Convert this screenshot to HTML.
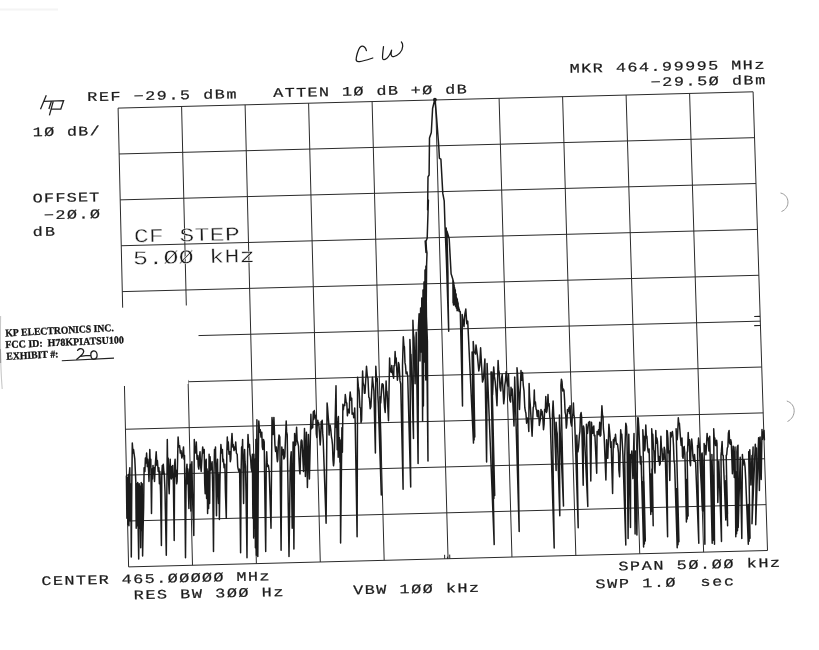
<!DOCTYPE html>
<html><head><meta charset="utf-8"><title>Spectrum plot</title>
<style>html,body{margin:0;padding:0;background:#fff;}body{width:819px;height:650px;overflow:hidden;position:relative;font-family:"Liberation Mono",monospace;}svg{position:absolute;left:0;top:0;display:block;filter:grayscale(1)}text{font-family:"Liberation Mono",monospace;fill:#1c1c1c}.s{font-family:"Liberation Serif",serif;font-weight:bold;fill:#111}</style></head><body>
<svg width="819" height="650" viewBox="0 0 819 650">
<rect x="0" y="0" width="819" height="650" fill="#ffffff"/>
<g stroke="#2a2a2a" stroke-width="1" fill="none" stroke-linecap="butt">
<line x1="118.10" y1="108.10" x2="128.60" y2="566.90"/>
<line x1="181.60" y1="106.47" x2="192.49" y2="565.26"/>
<line x1="245.10" y1="104.84" x2="256.38" y2="563.62"/>
<line x1="308.60" y1="103.21" x2="320.27" y2="561.98"/>
<line x1="372.10" y1="101.58" x2="384.16" y2="560.34"/>
<line x1="435.60" y1="99.95" x2="448.05" y2="558.70"/>
<line x1="499.10" y1="98.32" x2="511.94" y2="557.06"/>
<line x1="562.60" y1="96.69" x2="575.83" y2="555.42"/>
<line x1="626.10" y1="95.06" x2="639.72" y2="553.78"/>
<line x1="689.60" y1="93.43" x2="703.61" y2="552.14"/>
<line x1="753.10" y1="91.80" x2="767.50" y2="550.50"/>
<line x1="118.10" y1="108.10" x2="753.10" y2="91.80"/>
<line x1="119.15" y1="153.98" x2="754.54" y2="137.67"/>
<line x1="120.20" y1="199.86" x2="755.98" y2="183.54"/>
<line x1="121.25" y1="245.74" x2="757.42" y2="229.41"/>
<line x1="122.30" y1="291.62" x2="758.86" y2="275.28"/>
<line x1="123.35" y1="337.50" x2="760.30" y2="321.15"/>
<line x1="124.40" y1="383.38" x2="761.74" y2="367.02"/>
<line x1="125.45" y1="429.26" x2="763.18" y2="412.89"/>
<line x1="126.50" y1="475.14" x2="764.62" y2="458.76"/>
<line x1="127.55" y1="521.02" x2="766.06" y2="504.63"/>
<line x1="128.60" y1="566.90" x2="767.50" y2="550.50"/>
</g>
<path d="M126.4,476.0 L126.9,518.3 L127.4,477.7 L127.9,524.5 L128.4,474.5 L128.9,525.7 L129.4,472.8 L129.8,467.8 L130.3,520.8 L130.6,483.8 L131.1,525.7 L131.3,557.0 L131.8,483.8 L132.3,443.0 L133.0,453.1 L133.5,449.4 L134.8,459.2 L135.8,481.4 L136.2,528.2 L136.7,483.8 L137.2,525.7 L137.7,482.6 L138.2,530.6 L138.7,558.9 L139.2,483.8 L139.7,528.2 L140.2,486.3 L140.7,547.8 L141.2,482.6 L141.7,530.6 L142.2,483.8 L142.6,556.0 L143.1,528.2 L143.6,508.5 L144.1,467.8 L144.9,471.5 L145.4,458.0 L146.1,462.9 L146.6,453.1 L147.3,466.6 L147.8,459.2 L148.6,471.5 L149.0,481.4 L149.8,449.4 L150.3,466.6 L150.8,459.2 L151.5,513.4 L152.0,469.1 L152.5,478.9 L153.0,465.4 L153.5,474.0 L154.0,467.8 L154.5,481.4 L155.2,466.6 L156.2,451.8 L156.9,465.4 L157.4,460.5 L158.2,471.5 L158.9,467.8 L159.4,483.8 L159.9,471.5 L160.6,493.7 L161.4,545.4 L161.8,474.0 L162.3,465.4 L162.8,474.0 L163.3,464.2 L163.8,471.5 L164.3,474.0 L165.0,491.2 L166.3,555.2 L167.3,439.5 L167.8,474.0 L168.2,458.0 L168.7,483.8 L169.2,493.7 L169.7,469.1 L170.2,459.2 L170.7,476.5 L171.2,478.9 L171.7,466.6 L172.2,477.7 L172.7,465.4 L173.4,483.8 L174.2,540.5 L174.6,464.2 L175.1,459.2 L175.6,476.5 L176.1,470.3 L176.6,483.8 L177.1,481.4 L178.1,437.1 L178.8,446.9 L179.6,445.7 L180.3,453.1 L181.0,450.6 L181.8,458.0 L182.5,455.5 L183.5,446.9 L184.0,459.2 L184.5,455.5 L185.5,557.7 L186.0,491.2 L186.5,469.1 L187.0,464.2 L187.4,483.8 L187.9,469.1 L188.4,491.2 L188.9,508.5 L189.4,474.0 L190.2,464.2 L190.4,491.2 L190.9,510.9 L191.4,471.5 L191.9,461.7 L192.4,491.2 L193.1,515.8 L193.8,535.5 L194.3,439.5 L194.8,451.8 L195.3,448.2 L195.8,453.1 L196.3,442.0 L197.0,459.2 L197.8,455.5 L198.3,466.6 L198.8,469.1 L199.3,459.2 L200.0,451.8 L200.5,465.4 L201.2,471.5 L202.0,456.8 L202.7,446.9 L203.4,453.1 L204.2,449.4 L204.7,483.8 L205.2,493.7 L205.7,461.7 L206.2,459.2 L206.6,498.6 L207.1,469.1 L207.6,513.4 L208.1,471.5 L208.6,508.5 L209.1,454.3 L209.6,503.5 L210.1,456.8 L210.6,470.3 L211.1,469.1 L211.6,465.4 L212.1,461.7 L212.8,491.2 L213.5,551.5 L214.0,471.5 L214.5,449.4 L215.0,459.2 L215.5,446.9 L216.0,483.8 L216.5,515.8 L217.0,466.6 L217.5,459.2 L218.0,491.2 L218.5,503.5 L219.0,474.0 L219.4,519.5 L219.9,483.8 L220.4,459.2 L220.9,444.5 L221.7,453.1 L222.4,449.4 L222.9,461.7 L223.4,459.2 L224.1,467.8 L224.9,464.2 L225.4,491.2 L226.3,518.3 L226.8,454.3 L227.3,437.1 L227.8,449.4 L228.3,442.0 L229.0,454.3 L229.8,451.8 L230.3,461.7 L230.8,459.2 L231.3,444.5 L232.0,433.4 L232.7,446.9 L233.2,444.5 L234.0,450.6 L234.7,446.9 L235.2,449.4 L235.7,442.0 L236.4,453.1 L237.2,454.3 L237.7,466.6 L238.2,469.1 L238.9,471.5 L239.6,469.1 L240.1,508.5 L240.6,552.8 L241.1,471.5 L241.6,446.9 L242.1,454.3 L242.6,439.5 L243.1,474.0 L243.6,503.5 L244.1,459.2 L244.6,449.4 L245.0,461.7 L245.5,466.6 L246.0,491.2 L247.0,557.7 L247.5,459.2 L248.0,434.6 L248.7,446.9 L249.5,444.5 L250.0,454.3 L250.5,456.8 L251.2,467.8 L251.9,471.5 L252.4,454.3 L252.9,518.3 L253.2,455.5 L253.7,538.0 L253.9,454.3 L254.4,528.2 L254.9,459.2 L255.4,547.8 L255.9,439.5 L256.4,555.2 L256.9,419.8 L257.4,547.8 L257.8,556.5 L258.3,459.2 L258.8,421.1 L259.6,432.2 L260.3,429.7 L261.0,437.1 L261.8,432.2 L262.3,446.9 L262.8,449.4 L263.5,439.5 L264.2,442.0 L264.7,483.8 L265.7,551.5 L266.2,466.6 L266.7,451.8 L267.2,462.9 L267.7,466.6 L268.4,465.4 L269.2,471.5 L271.0,528.2 L272.0,417.4 L272.4,422.9 L273.0,434.6 L273.4,431.8 L273.9,417.4 L274.9,444.5 L275.6,451.5 L276.4,446.9 L277.0,457.4 L277.4,461.7 L277.8,459.6 L278.4,442.0 L279.0,435.1 L279.8,437.1 L281.1,550.3 L281.8,446.9 L282.6,454.7 L283.3,449.4 L283.9,459.0 L284.8,456.8 L286.2,421.1 L286.6,431.9 L287.2,434.6 L289.0,556.5 L290.2,469.1 L290.7,457.8 L291.2,451.8 L292.2,528.2 L293.1,442.0 L293.9,549.1 L294.6,433.4 L295.2,445.6 L295.8,444.5 L296.6,427.2 L297.1,440.1 L297.6,442.0 L298.5,446.1 L299.0,459.2 L299.6,471.2 L300.0,474.0 L301.0,442.0 L301.4,439.9 L302.0,440.8 L303.5,471.5 L304.5,428.5 L305.4,476.5 L306.4,432.2 L307.4,487.5 L308.4,434.6 L309.4,478.9 L310.9,414.2 L311.3,428.9 L311.8,427.7 L312.7,427.7 L313.3,411.7 L313.7,419.5 L314.3,410.5 L315.2,418.0 L315.8,415.4 L316.3,434.0 L316.8,437.5 L317.1,426.6 L317.8,420.3 L318.3,424.8 L318.7,422.8 L319.4,432.4 L320.2,444.9 L320.6,439.4 L321.2,421.5 L321.6,428.2 L322.2,420.3 L322.7,433.4 L323.2,440.0 L326.1,523.2 L327.1,403.1 L327.5,407.1 L328.1,415.4 L328.7,423.0 L329.1,435.1 L329.5,427.6 L330.1,425.2 L330.8,429.8 L331.5,437.5 L331.9,439.1 L332.5,444.9 L333.0,459.8 L333.5,465.8 L333.9,462.9 L334.5,447.4 L336.0,385.8 L336.5,427.7 L336.7,417.8 L337.2,449.8 L337.7,421.5 L338.2,457.2 L338.4,416.6 L338.9,449.8 L339.4,437.5 L339.9,462.2 L340.2,440.0 L340.6,542.9 L341.9,427.7 L342.4,452.3 L342.9,404.3 L343.4,409.8 L343.8,405.5 L344.7,405.6 L345.3,394.5 L346.2,402.5 L346.8,403.1 L347.4,415.8 L347.8,412.9 L348.4,409.3 L349.3,412.9 L349.7,398.1 L350.2,392.0 L351.0,400.3 L351.7,398.2 L352.1,414.3 L352.7,412.9 L353.3,413.3 L353.7,417.8 L354.2,417.3 L354.7,408.0 L355.2,422.8 L357.1,536.7 L357.6,377.2 L358.4,386.9 L359.1,390.8 L359.9,407.4 L360.6,408.0 L361.0,422.6 L361.6,420.3 L362.6,371.1 L363.1,382.7 L364.0,385.8 L364.4,393.2 L365.0,393.2 L366.5,366.2 L367.3,375.7 L368.0,378.5 L368.8,397.2 L369.4,398.2 L370.2,408.8 L370.9,406.8 L372.4,377.2 L373.0,382.7 L373.9,390.8 L375.4,453.0 L375.8,366.2 L376.6,381.1 L377.3,378.5 L377.9,396.4 L378.3,403.1 L381.3,494.9 L380.0,396.8 L380.7,403.0 L381.5,391.2 L382.0,383.9 L382.6,383.8 L383.2,384.9 L383.7,393.1 L384.6,407.6 L385.2,412.5 L386.1,381.1 L386.7,394.3 L387.0,391.2 L388.5,420.8 L389.6,358.0 L390.2,371.7 L390.7,369.1 L391.3,372.2 L391.8,365.4 L392.4,373.0 L392.9,374.6 L393.6,378.2 L394.0,365.4 L394.6,365.7 L395.1,351.5 L395.7,362.7 L396.2,358.0 L396.9,371.8 L397.4,380.2 L397.9,375.4 L398.5,362.6 L399.0,364.4 L399.6,372.8 L400.0,380.9 L400.7,383.8 L403.1,489.2 L402.5,365.4 L403.3,336.8 L403.9,345.7 L404.4,346.9 L405.0,362.9 L405.5,365.4 L406.1,373.7 L406.6,372.8 L407.0,372.0 L407.7,376.5 L410.7,486.9 L409.9,339.5 L410.6,355.1 L411.0,354.3 L413.5,438.5 L412.9,320.2 L413.4,333.5 L414.0,337.7 L415.1,383.8 L416.2,332.2 L416.9,383.8 L418.1,463.4 L418.4,328.5 L419.1,313.7 L419.5,318.0 L420.0,361.0 L420.6,308.0 L421.2,352.0 L421.8,298.0 L422.6,421.0 L423.0,290.0 L423.4,406.0 L424.0,282.0 L424.6,362.0 L425.0,270.0 L425.8,380.0 L425.9,266.0 L428.0,461.1 L427.4,341.4 L426.2,310.0 L426.6,265.0 L427.0,253.0 L425.2,241.0 L426.0,252.5 L425.6,241.0 L426.6,252.0 L426.0,241.3 L427.2,238.0 L428.4,200.0 L427.6,210.0 L428.0,176.8 L429.1,175.0 L429.5,138.0 L431.3,132.5 L432.6,108.5 L434.8,99.2 L436.3,114.0 L438.7,145.4 L439.4,158.3 L440.9,159.2 L442.8,193.4 L444.2,200.8 L445.0,225.8 L446.4,260.0 L448.7,331.2 L447.6,270.0 L446.2,228.0 L447.2,262.0 L448.3,318.0 L447.9,272.0 L446.9,231.0 L449.2,238.8 L451.1,273.8 L452.9,279.4 L453.1,303.0 L453.3,280.7 L453.5,304.9 L453.7,282.3 L453.9,304.9 L454.1,285.0 L454.3,303.2 L454.5,287.2 L454.7,303.6 L454.9,288.9 L455.1,304.2 L455.3,289.9 L455.5,306.3 L455.7,293.6 L455.9,305.4 L456.1,294.0 L456.3,308.1 L456.5,297.7 L456.7,308.4 L456.9,298.2 L457.1,310.7 L457.3,299.2 L457.5,310.6 L457.7,301.7 L457.9,307.9 L458.1,303.1 L458.3,309.1 L458.5,306.8 L458.7,309.0 L458.9,308.0 L459.1,311.5 L459.3,309.4 L459.4,310.8 L460.3,311.8 L462.5,406.0 L462.2,314.6 L464.0,326.6 L464.9,313.9 L465.8,309.1 L466.8,323.8 L467.7,321.1 L469.2,352.5 L473.5,443.1 L472.1,352.0 L474.1,440.1 L472.8,352.0 L474.8,437.1 L473.2,341.4 L474.1,352.4 L475.1,352.5 L475.5,354.0 L476.0,345.1 L477.4,355.7 L478.8,370.9 L479.8,364.8 L480.6,347.8 L482.5,382.0 L483.5,378.6 L484.9,358.9 L486.6,462.0 L487.1,363.5 L494.2,544.6 L491.0,372.0 L493.9,498.5 L491.8,372.0 L494.7,495.5 L491.5,374.3 L492.1,390.7 L492.6,394.6 L493.7,366.9 L494.5,376.9 L495.2,381.7 L496.1,392.4 L497.0,405.7 L498.1,360.5 L498.6,369.9 L499.2,372.5 L500.0,387.1 L500.7,390.9 L501.5,378.7 L502.2,374.3 L503.7,403.8 L504.3,398.4 L504.8,385.4 L505.4,381.0 L506.2,371.5 L507.0,381.2 L507.5,383.5 L508.0,386.0 L508.5,374.3 L509.2,394.6 L509.9,400.2 L510.6,402.1 L511.0,387.2 L511.7,395.3 L512.2,389.1 L514.0,426.0 L514.7,377.1 L519.2,531.4 L517.0,367.8 L517.5,373.3 L518.1,385.4 L518.8,394.3 L519.5,409.4 L521.0,370.6 L521.8,380.2 L522.5,372.5 L523.3,385.5 L524.0,390.9 L524.8,407.7 L525.4,411.2 L525.9,413.1 L526.6,423.2 L527.3,417.9 L527.7,418.6 L528.2,420.9 L528.8,431.5 L529.1,383.5 L529.6,396.7 L530.2,403.8 L532.1,436.2 L533.2,407.5 L533.8,406.3 L534.3,390.0 L534.7,403.8 L535.4,402.0 L536.1,409.3 L536.5,409.4 L537.2,416.5 L537.6,416.8 L538.2,410.4 L538.7,411.2 L539.3,425.4 L539.8,422.3 L540.5,418.9 L541.0,409.4 L541.5,414.7 L542.1,411.2 L542.8,417.5 L543.5,429.7 L544.1,424.1 L544.6,409.4 L545.3,411.3 L545.8,396.5 L546.4,412.6 L546.9,411.2 L547.4,406.7 L548.0,394.6 L548.5,405.7 L549.1,403.8 L549.8,417.1 L550.2,418.6 L554.2,548.0 L552.4,414.9 L553.1,401.1 L553.8,416.0 L554.2,418.6 L556.1,470.5 L556.1,422.3 L556.7,430.8 L557.2,433.4 L559.8,515.7 L559.4,414.9 L563.5,506.1 L560.9,385.4 L561.4,379.2 L562.0,381.7 L562.7,391.0 L563.5,389.1 L564.0,390.7 L564.6,400.2 L565.1,412.1 L565.7,414.9 L566.3,428.1 L566.8,424.2 L567.5,409.4 L568.4,411.1 L569.0,407.5 L569.5,413.6 L570.1,405.7 L570.8,422.4 L571.6,426.0 L572.3,416.8 L573.0,413.1 L573.4,402.9 L573.9,414.6 L574.6,418.6 L578.2,527.7 L576.8,435.2 L577.3,448.5 L577.9,451.8 L578.6,447.1 L579.4,435.2 L579.9,431.7 L580.5,414.9 L581.1,412.6 L581.6,416.8 L583.2,485.2 L583.4,426.0 L583.9,427.9 L584.5,437.1 L587.8,506.5 L586.4,424.2 L587.0,433.3 L587.5,433.4 L588.2,425.9 L588.6,422.3 L589.3,425.2 L589.7,421.4 L590.8,481.0 L591.5,422.3 L592.2,432.0 L592.6,433.4 L593.3,427.1 L593.8,426.0 L594.2,435.7 L594.9,435.2 L596.7,473.2 L597.1,431.5 L597.7,434.4 L598.6,429.7 L599.2,434.8 L599.7,422.3 L600.2,436.2 L600.8,435.2 L601.9,405.7 L602.5,415.0 L603.0,416.8 L603.4,428.7 L604.1,435.2 L605.9,480.0 L606.6,439.8 L607.2,455.3 L607.8,458.3 L608.9,424.2 L609.3,428.2 L610.0,436.2 L610.7,447.4 L611.1,441.7 L612.6,493.4 L613.3,439.8 L613.7,447.6 L614.4,438.0 L615.0,440.8 L615.5,434.3 L616.3,444.2 L617.0,443.5 L617.6,444.6 L618.5,452.8 L618.9,470.2 L619.6,476.8 L620.7,429.7 L621.2,435.8 L621.8,434.3 L622.3,443.2 L622.9,454.6 L625.8,545.1 L624.7,456.5 L625.8,423.2 L626.5,426.2 L627.0,436.2 L628.1,538.6 L628.8,434.3 L630.5,527.5 L630.6,454.6 L631.2,457.9 L631.8,450.9 L632.9,478.6 L634.0,433.4 L635.1,534.0 L635.4,450.9 L636.9,535.0 L637.7,417.7 L638.2,417.9 L638.8,426.9 L639.9,454.6 L640.4,464.0 L641.0,456.5 L643.6,546.9 L643.0,481.5 L644.4,543.9 L643.9,481.5 L645.3,540.9 L643.5,476.5 L644.3,511.8 L642.8,429.7 L643.5,440.7 L643.9,436.2 L644.6,450.8 L645.0,449.1 L645.8,425.1 L646.4,438.1 L646.9,436.2 L647.5,446.5 L648.0,450.9 L648.5,452.6 L649.1,449.1 L650.8,514.6 L650.8,474.1 L651.6,511.6 L651.7,474.1 L652.5,508.6 L651.9,469.1 L653.2,525.7 L651.7,428.8 L652.3,438.1 L652.8,434.3 L653.5,449.4 L653.9,450.9 L654.5,468.2 L655.0,473.1 L655.8,430.6 L656.3,443.3 L656.9,438.0 L657.5,441.7 L658.0,452.8 L658.4,461.1 L659.1,456.5 L659.6,465.3 L660.2,463.8 L660.9,436.2 L661.4,447.6 L662.0,449.1 L662.5,460.2 L663.1,454.6 L663.7,459.7 L664.2,447.2 L664.9,450.4 L665.4,460.2 L667.6,536.8 L666.8,430.6 L667.3,431.1 L667.9,438.0 L668.4,453.0 L669.0,450.9 L669.8,480.5 L670.5,432.5 L671.1,437.0 L671.6,434.3 L672.4,431.5 L673.0,437.0 L673.5,445.4 L674.0,460.5 L674.6,463.8 L677.2,547.8 L676.7,488.8 L678.0,544.8 L677.6,488.8 L678.9,541.8 L676.1,428.8 L676.6,438.7 L677.2,439.8 L677.7,433.1 L678.3,417.7 L678.8,423.1 L679.4,423.2 L679.8,428.9 L680.5,438.0 L681.2,445.4 L682.0,438.0 L682.5,456.5 L683.1,458.3 L683.8,447.2 L684.2,446.5 L684.9,454.6 L686.4,522.0 L686.3,479.6 L687.2,519.0 L687.2,479.6 L688.1,516.0 L687.1,452.8 L687.6,451.0 L688.2,432.5 L688.8,445.0 L689.4,439.8 L689.9,461.4 L690.5,465.7 L691.2,441.7 L691.7,439.1 L692.3,445.4 L692.9,456.0 L693.4,460.2 L694.0,461.2 L694.5,454.6 L695.1,461.6 L695.6,462.0 L698.8,543.2 L697.5,445.4 L698.1,447.2 L698.6,438.0 L699.2,443.7 L699.7,454.6 L702.6,510.9 L701.5,454.6 L702.1,452.9 L702.6,460.2 L704.9,544.2 L704.1,443.5 L704.7,448.5 L705.2,445.4 L705.9,454.8 L706.3,449.1 L707.1,433.4 L707.6,440.0 L708.2,438.0 L708.9,450.9 L709.7,436.2 L712.2,543.2 L711.2,461.2 L713.0,540.2 L712.1,461.2 L713.9,537.2 L711.9,454.6 L714.5,544.2 L713.7,428.8 L714.3,439.7 L714.8,438.0 L715.5,445.4 L715.9,445.4 L716.6,440.2 L717.0,443.5 L717.8,502.6 L718.8,460.9 L721.5,541.4 L721.0,455.4 L721.4,451.4 L722.1,441.5 L722.6,455.0 L723.2,455.4 L725.8,520.0 L725.8,480.4 L726.6,517.0 L726.7,480.4 L727.5,514.0 L726.4,475.4 L727.6,525.7 L726.2,455.4 L726.7,454.7 L727.3,448.0 L727.9,446.7 L728.4,433.2 L729.1,430.5 L729.6,443.0 L730.2,444.3 L730.7,439.7 L731.3,442.5 L732.4,473.8 L733.2,446.2 L734.3,477.5 L735.0,447.1 L735.8,536.8 L735.2,472.1 L736.6,533.8 L736.1,472.1 L737.5,530.8 L736.9,451.7 L737.3,446.8 L738.0,445.2 L738.2,527.5 L740.2,457.2 L741.8,538.6 L742.4,454.5 L743.0,465.2 L743.5,460.9 L744.0,459.8 L744.6,462.8 L745.1,467.7 L745.7,479.4 L748.3,544.2 L748.3,504.4 L749.1,541.2 L749.2,504.4 L750.0,538.2 L748.7,451.7 L749.2,456.8 L749.8,449.8 L750.9,484.9 L752.0,455.4 L752.7,456.5 L753.1,447.1 L752.0,523.8 L755.3,444.3 L755.8,454.3 L756.4,448.0 L755.7,524.8 L758.6,437.8 L759.4,490.5 L760.1,436.9 L761.2,479.4 L762.0,429.5 L762.4,439.4 L763.1,436.9 L763.6,431.5 L764.0,430.5 L764.4,439.7" fill="none" stroke="#1b1b1b" stroke-width="1.5" stroke-linejoin="round" stroke-linecap="round"/><circle cx="434.9" cy="99.6" r="1.9" fill="#1b1b1b"/>
<polygon points="0,300 121,307.8 185,305.6 198.5,305.2 198.5,372 188.3,380.3 188.3,384 124,386 0,392" fill="#ffffff"/>
<path d="M0.6,316 C0.2,340 0.6,370 2.2,389" fill="none" stroke="#c9c9c9" stroke-width="1.1"/>
<path d="M0.4,349 L0.55,363" fill="none" stroke="#9a9a9a" stroke-width="1.2"/>
<rect x="0" y="8.5" width="58" height="2" fill="#f4f4f4"/>
<text stroke="#1c1c1c" stroke-width="0.22" transform="translate(570.80,72.80) rotate(-1.221) scale(1.28,1)" x="-0.78" y="0" font-size="13.13" textLength="152.15" lengthAdjust="spacing" xml:space="preserve">MKR&#160;464.99995&#160;MHz</text>
<text stroke="#1c1c1c" stroke-width="0.22" transform="translate(651.70,86.30) rotate(-1.168) scale(1.28,1)" x="-0.78" y="0" font-size="13.13" textLength="89.57" lengthAdjust="spacing" xml:space="preserve">&#8722;29.5&#216;&#160;dBm</text>
<text stroke="#1c1c1c" stroke-width="0.22" transform="translate(88.30,101.10) rotate(-1.129) scale(1.28,1)" x="-0.78" y="0" font-size="13.13" textLength="116.58" lengthAdjust="spacing" xml:space="preserve">REF&#160;&#8722;29.5&#160;dBm</text>
<text stroke="#1c1c1c" stroke-width="0.22" transform="translate(273.20,97.10) rotate(-1.129) scale(1.28,1)" x="-0.00" y="0" font-size="13.13" textLength="151.29" lengthAdjust="spacing" xml:space="preserve">ATTEN&#160;1&#216;&#160;dB&#160;+&#216;&#160;dB</text>
<text stroke="#1c1c1c" stroke-width="0.22" transform="translate(33.80,136.30) rotate(-1.151) scale(1.28,1)" x="-0.78" y="0" font-size="13.13" textLength="52.39" lengthAdjust="spacing" xml:space="preserve">1&#216;&#160;dB/</text>
<text stroke="#1c1c1c" stroke-width="0.22" transform="translate(33.80,202.50) rotate(-1.141) scale(1.28,1)" x="-0.78" y="0" font-size="13.13" textLength="52.10" lengthAdjust="spacing" xml:space="preserve">OFFSET</text>
<text stroke="#1c1c1c" stroke-width="0.22" transform="translate(44.90,219.20) rotate(-1.163) scale(1.28,1)" x="-0.78" y="0" font-size="13.13" textLength="43.85" lengthAdjust="spacing" xml:space="preserve">&#8722;2&#216;.&#216;</text>
<text stroke="#1c1c1c" stroke-width="0.22" transform="translate(33.80,235.90) rotate(-1.102) scale(1.28,1)" x="-0.78" y="0" font-size="13.13" textLength="17.43" lengthAdjust="spacing" xml:space="preserve">dB</text>
<text stroke="#fff" stroke-width="0.36" paint-order="fill stroke" transform="translate(134.90,242.30) rotate(-1.163) scale(1.28,1)" x="-0.78" y="0" font-size="19.39" textLength="82.75" lengthAdjust="spacing" xml:space="preserve">CF&#160;STEP</text>
<text stroke="#fff" stroke-width="0.36" paint-order="fill stroke" transform="translate(134.90,264.40) rotate(-1.164) scale(1.28,1)" x="-1.56" y="0" font-size="19.69" textLength="95.33" lengthAdjust="spacing" xml:space="preserve">5.&#216;&#216;&#160;kHz</text>
<text stroke="#1c1c1c" stroke-width="0.22" transform="translate(42.50,585.20) rotate(-1.270) scale(1.28,1)" x="-0.78" y="0" font-size="13.13" textLength="178.22" lengthAdjust="spacing" xml:space="preserve">CENTER&#160;465.&#216;&#216;&#216;&#216;&#216;&#160;MHz</text>
<text stroke="#1c1c1c" stroke-width="0.22" transform="translate(134.80,599.30) rotate(-1.283) scale(1.28,1)" x="-0.78" y="0" font-size="13.13" textLength="117.06" lengthAdjust="spacing" xml:space="preserve">RES&#160;BW&#160;3&#216;&#216;&#160;Hz</text>
<text stroke="#1c1c1c" stroke-width="0.22" transform="translate(353.20,594.20) rotate(-1.058) scale(1.28,1)" x="-0.00" y="0" font-size="13.13" textLength="98.47" lengthAdjust="spacing" xml:space="preserve">VBW&#160;1&#216;&#216;&#160;kHz</text>
<text stroke="#1c1c1c" stroke-width="0.22" transform="translate(619.40,570.60) rotate(-1.361) scale(1.28,1)" x="-0.78" y="0" font-size="13.13" textLength="126.45" lengthAdjust="spacing" xml:space="preserve">SPAN&#160;5&#216;.&#216;&#216;&#160;kHz</text>
<text stroke="#1c1c1c" stroke-width="0.22" transform="translate(596.60,588.20) rotate(-1.266) scale(1.28,1)" x="-0.78" y="0" font-size="13.13" textLength="108.15" lengthAdjust="spacing" xml:space="preserve">SWP&#160;1.&#216;&#160;&#160;sec</text>
<text class="s" stroke="#111" stroke-width="0.3" transform="translate(5.50,336.40) rotate(-2.799)" x="0" y="0" font-size="10.40" textLength="108.53" lengthAdjust="spacingAndGlyphs" xml:space="preserve">KP&#160;ELECTRONICS&#160;INC.</text>
<text class="s" stroke="#111" stroke-width="0.3" transform="translate(5.50,348.10) rotate(-2.368)" x="0" y="0" font-size="10.40" textLength="118.60" lengthAdjust="spacingAndGlyphs" xml:space="preserve">FCC&#160;ID:&#160;&#160;H78KPIATSU100</text>
<text class="s" stroke="#111" stroke-width="0.3" transform="translate(6.40,359.80) rotate(-2.742)" x="0" y="0" font-size="10.40" textLength="52.26" lengthAdjust="spacingAndGlyphs" xml:space="preserve">EXHIBIT&#160;#:</text>
<line x1="61.8" y1="360.8" x2="114" y2="358.1" stroke="#222" stroke-width="1.1"/>
<path d="M77.6,350.4 C78.6,348.8 81,348 82.6,349.2 C84.2,350.6 83.6,352.8 82.2,354.4 C80.6,356.2 78.6,357.8 76.8,359.3 M80.4,356.3 C84,355.9 87.4,355.6 90.9,355.4 C90.6,353.2 91.6,351.4 93.2,351 C95,350.6 96.6,351.8 97,354 C97.4,356.6 96.2,358.8 94.2,359.2 C92.2,359.5 91,357.8 90.9,355.4" fill="none" stroke="#1f1f1f" stroke-width="1.3" stroke-linecap="round" stroke-linejoin="round"/>
<path d="M46.3,95.2 L40.5,109.3 M43.9,101.4 L63.6,100.7 L60.8,109 L51.6,109.2 M51.4,101.2 L48.9,109 M53.3,101.2 L49.4,115.3" fill="none" stroke="#222" stroke-width="1.3" stroke-linejoin="miter" stroke-linecap="butt"/>
<path d="M366.4,50.6 C365.6,47.5 363.6,45.6 361.2,46.4 C358.6,47.6 357.4,52.5 356.4,57.2 C355.6,61 356.6,62 359.6,61.6 C364,61 368.5,59.4 372.8,58" fill="none" stroke="#1a1a1a" stroke-width="1.25" stroke-linecap="round" stroke-linejoin="round"/>
<path d="M383.5,46.7 C383,50.5 382.3,55.5 382.6,58.2 C382.8,60 384.2,60.2 386.9,58.2 C389.2,56.4 390.6,53 391.6,50.1 C391.3,52 390.8,53.6 391.2,54.8 C391.6,56.6 392.8,57 394.1,56.5 C396.4,55.8 398.2,54.6 399.7,53.1 C401.6,51.2 402.6,48.6 402.7,46.2 C402.8,44.4 402.4,43 401.4,42" fill="none" stroke="#1a1a1a" stroke-width="1.25" stroke-linecap="round" stroke-linejoin="round"/>
<path d="M780.5,193 C790,195 790.5,208 781.5,211.5" fill="none" stroke="#9a9a9a" stroke-width="1"/>
<path d="M786.8,401 C796.5,404 796.5,417 787.5,421.5" fill="none" stroke="#9a9a9a" stroke-width="1"/>
<path d="M754.2,316.5 L760,316.4 M754.2,325.6 L760.4,325.5" stroke="#222" stroke-width="1.1" fill="none"/>
<path d="M444.6,554.8 L444.7,558.8 M447.4,556.6 L447.45,558.8 M449.7,554.6 L449.8,558.7" stroke="#222" stroke-width="1" fill="none"/>
</svg></body></html>
